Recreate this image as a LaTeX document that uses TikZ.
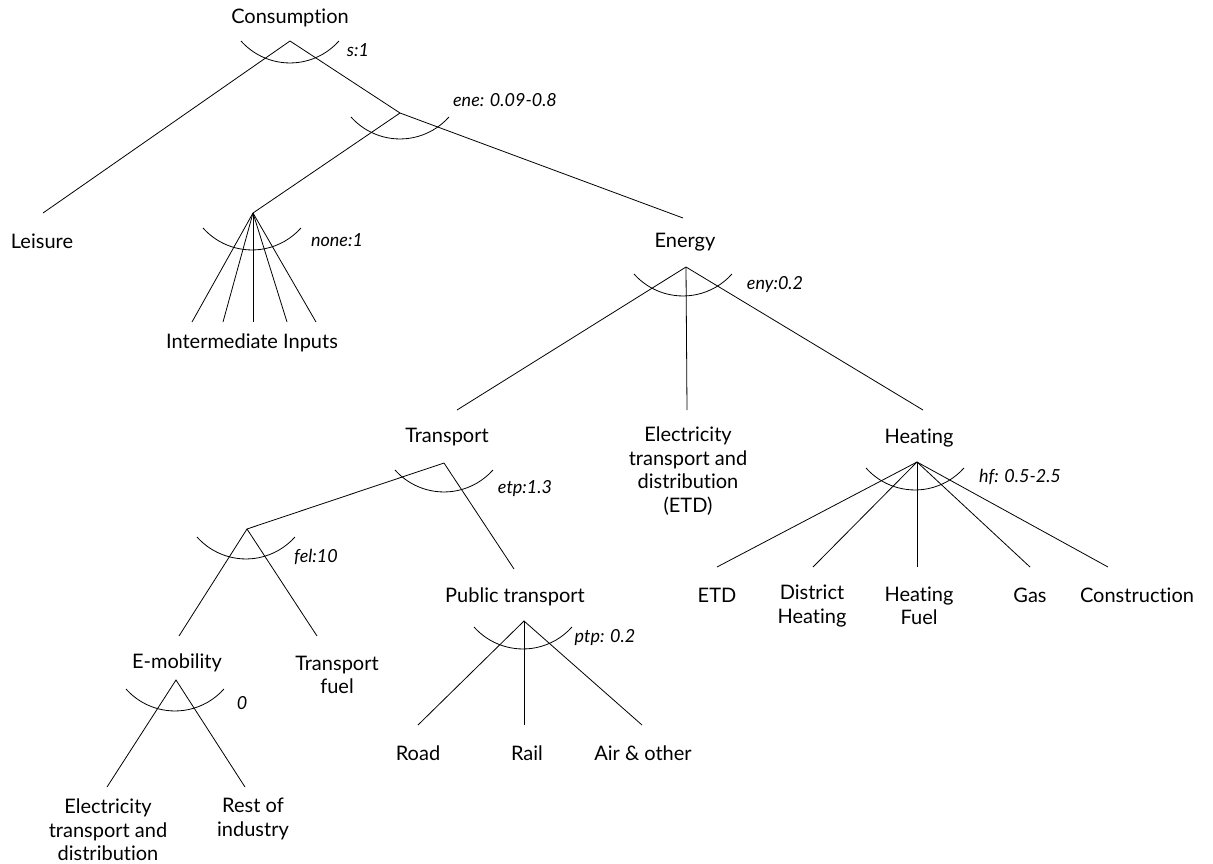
\documentclass[tikz,border=0pt]{standalone}
\usepackage{fontspec}
\setmainfont[Ligatures=NoCommon]{Lato}
\begin{document}
\begin{tikzpicture}[x=1pt,y=-1pt,line width=0.8pt,
  every node/.style={font=\fontsize{20}{23.5}\selectfont,inner sep=0pt,align=center},
  elas/.style={font=\fontsize{18}{21}\selectfont\itshape},
  nest/.pic={\draw (-49,0) arc[start angle=138.3,end angle=41.7,radius=65.6];}]
\useasboundingbox (0,0) rectangle (1213,863);
%\draw[help lines] (0,0) grid (1213,863);
\node (cons) at (290,18) {Consumption};
\node (leis) at (42,241) {Leisure};
\node (inter) at (252,343) {Intermediate Inputs};
\node (energy) at (685,242) {Energy};
\node (trans) at (447,437) {Transport};
\node (elec) at (688,471) {Electricity\\transport and\\distribution\\(ETD)};
\node (heat) at (919,438) {Heating};
\node (emob) at (177,663) {E-mobility};
\node (tfuel) at (337,675) {Transport\\fuel};
\node (etdem) at (108,830) {Electricity\\transport and\\distribution};
\node (rest) at (253,819) {Rest of\\industry};
\node (pub) at (515,597) {Public transport};
\node (road) at (418,753) {Road};
\node (rail) at (527,753) {Rail};
\node (air) at (643,753) {Air \& other};
\node (etdh) at (717,595) {ETD};
\node (dist) at (812,606) {District\\Heating};
\node (hfuel) at (919,606) {Heating\\Fuel};
\node (gas) at (1030,595) {Gas};
\node (constr) at (1137,595) {Construction};
% elasticities
\node[elas] (s) at (358,50) {s:1};
\node[elas] (ene) at (505,100) {ene: 0.09-0.8};
\node[elas] (none) at (337,240) {none:1};
\node[elas] (eny) at (775,285) {eny:0.2};
\node[elas] (etp) at (525,489) {etp:1.3};
\node[elas] (fel) at (316,557) {fel:10};
\node[elas] (zero) at (242,703) {0};
\node[elas] (ptp) at (605,638) {ptp: 0.2};
\node[elas] (hf) at (1020,477) {hf: 0.5-2.5};
% nests
\coordinate (consA) at (290,41);
\coordinate (eneA) at (400,113);
\coordinate (noneA) at (253,213);
\coordinate (enyA) at (686,267);
\coordinate (etpA) at (444,463);
\coordinate (felA) at (247,529);
\coordinate (emobA) at (176,680);
\coordinate (ptpA) at (524,621);
\coordinate (hfA) at (917,462);
\coordinate (leisE) at (43,213);
\coordinate (energyE) at (683,218);
\coordinate (transE) at (457,410);
\coordinate (elecE) at (687,410);
\coordinate (heatE) at (923,410);
\coordinate (pubE) at (514,569);
\coordinate (emobE) at (179,636);
\coordinate (tfuelE) at (317,636);
\coordinate (etdemE) at (107,787);
\coordinate (restE) at (245,787);
\coordinate (roadE) at (418,725);
\coordinate (railE) at (524,725);
\coordinate (airE) at (642,725);
\coordinate (etdhE) at (717,567);
\coordinate (distE) at (813,567);
\coordinate (hfuelE) at (917,567);
\coordinate (gasE) at (1030,567);
\coordinate (constrE) at (1108,567);
\foreach \x [count=\i] in {192,223,253,287,316}
  \coordinate (in\i) at (\x,322);
\pic at (290,41) {nest};
\pic at (400,117) {nest};
\pic at (252,228) {nest};
\pic at (683,274) {nest};
\pic at (444,470) {nest};
\pic at (246,537) {nest};
\pic at (175,689) {nest};
\pic at (523,627) {nest};
\pic at (915,468) {nest};
\draw (leisE)--(consA)--(eneA)--(energyE);
\draw (eneA)--(noneA);
\foreach \i in {1,...,5}
  \draw (noneA)--(in\i);
\draw (transE)--(enyA)--(heatE);
\draw (enyA)--(elecE);
\draw (felA)--(etpA)--(pubE);
\draw (emobE)--(felA)--(tfuelE);
\draw (etdemE)--(emobA)--(restE);
\draw (roadE)--(ptpA)--(airE);
\draw (ptpA)--(railE);
\foreach \e in {etdhE,distE,hfuelE,gasE,constrE}
  \draw (hfA)--(\e);
\end{tikzpicture}
\end{document}
